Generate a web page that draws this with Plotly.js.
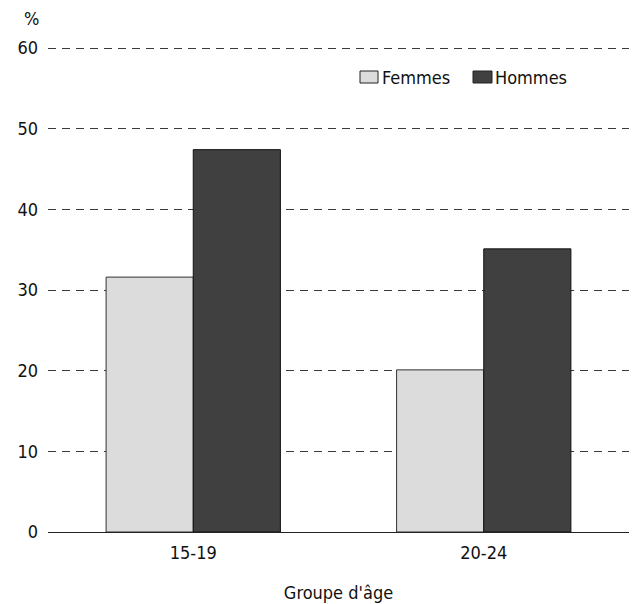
<!DOCTYPE html>
<html>
<head>
<meta charset="utf-8">
<script src="https://cdn.plot.ly/plotly-3.0.1.min.js"></script>
<style>
  html, body { margin: 0; padding: 0; background: #fff; }
  #chart { width: 633px; height: 604px; }
</style>
</head>
<body>
<div id="chart"></div>
<script>
// Age groups and shares (%) by sex
const ageGroups = ["15-19", "20-24"];
const femmes = [31.6, 20.1];
const hommes = [47.4, 35.1];
const seriesNames = ["Femmes", "Hommes"];
const seriesColors = ["#dcdcdc", "#404040"];
const seriesEdges = ["#333333", "#111111"];
const yTicks = [0, 10, 20, 30, 40, 50, 60];

const FONT = "'DejaVu Sans Condensed', 'Liberation Sans Narrow', 'Arial Narrow', sans-serif";
const W = 633, H = 604;
const M = { l: 48, r: 4, t: 46, b: 72 };
const plotW = W - M.l - M.r, plotH = H - M.t - M.b;

// pixel -> paper helpers for the hand-placed legend
const px = v => (v - M.l) / plotW;
const py = v => (H - M.b - v) / plotH;

const traces = seriesNames.map((name, i) => ({
  type: "bar",
  name: name,
  x: ageGroups,
  y: i === 0 ? femmes : hommes,
  marker: { color: seriesColors[i], line: { color: seriesEdges[i], width: 1 } }
}));

// legend: swatch + label, laid out side by side
const legendItems = [
  { x0: 360, x1: 378, tx: 380 },
  { x0: 473, x1: 492, tx: 493 }
];
const shapes = legendItems.map((it, i) => ({
  type: "rect", xref: "paper", yref: "paper",
  x0: px(it.x0), x1: px(it.x1), y0: py(83), y1: py(71),
  fillcolor: seriesColors[i],
  line: { color: "#222222", width: 1 }
}));
const legendLabels = legendItems.map((it, i) => ({
  text: seriesNames[i],
  xref: "paper", yref: "paper",
  x: px(it.tx), y: py(77),
  xanchor: "left", yanchor: "middle",
  showarrow: false,
  font: { family: FONT, size: 18, color: "#111111" }
}));

const layout = {
  width: W,
  height: H,
  margin: M,
  paper_bgcolor: "#ffffff",
  plot_bgcolor: "#ffffff",
  font: { family: FONT, size: 18, color: "#111111" },
  barmode: "group",
  bargap: 0.4,
  bargroupgap: 0,
  showlegend: false,
  xaxis: {
    type: "category",
    range: [-0.5, 1.5],
    showgrid: false,
    showline: false,
    ticks: "",
    ticklabelstandoff: 8,
    tickfont: { family: FONT, size: 18 },
    title: { text: "Groupe d'âge", font: { family: FONT, size: 18 }, standoff: 24 },
    fixedrange: true
  },
  yaxis: {
    range: [0, 60.25],
    tickvals: yTicks,
    ticktext: yTicks.map(String),
    showgrid: true,
    gridcolor: "#3a3a3a",
    griddash: "8px,6px",
    gridwidth: 1,
    zeroline: true,
    zerolinecolor: "#222222",
    zerolinewidth: 1,
    showline: false,
    ticks: "",
    ticklabelstandoff: 9,
    tickfont: { family: FONT, size: 18 },
    fixedrange: true
  },
  shapes: shapes,
  annotations: [
    {
      text: "%",
      xref: "paper", yref: "paper",
      x: px(22), y: py(19),
      xanchor: "left", yanchor: "middle",
      showarrow: false,
      font: { family: FONT, size: 18, color: "#111111" }
    }
  ].concat(legendLabels)
};

Plotly.newPlot("chart", traces, layout, { displayModeBar: false, staticPlot: true });
</script>
</body>
</html>
